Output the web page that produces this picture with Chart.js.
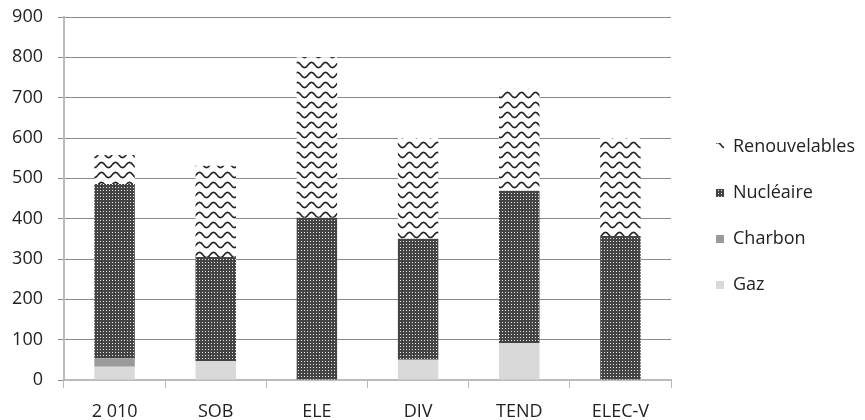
<!DOCTYPE html>
<html>
<head>
<meta charset="utf-8">
<script src="https://cdn.jsdelivr.net/npm/chart.js@4"></script>
<style>
  body { margin: 0; background: #fff; }
</style>
</head>
<body>
<canvas id="mix" width="865" height="420"></canvas>
<script>
const scenarios = ["2 010", "SOB", "ELE", "DIV", "TEND", "ELEC-V"];
const gaz = [33, 47, 0, 50, 92, 0];
const charbon = [20, 0, 0, 0, 0, 0];
const nucleaire = [433, 258, 402, 300, 377, 357];
const renouvelables = [72, 226, 398, 250, 253, 243];

// motif en vagues (renouvelables)
function wavePattern() {
    const c = document.createElement('canvas');
    c.width = 14; c.height = 10;
    const g = c.getContext('2d');
    g.fillStyle = '#fff';
    g.fillRect(0, 0, 14, 10);
    g.strokeStyle = '#222';
    g.lineWidth = 1.6;
    g.beginPath();
    for (let x = -1; x <= 15; x += 0.5) {
        const y = 5 - 2.6 * Math.sin(2 * Math.PI * x / 14);
        if (x === -1) g.moveTo(x, y); else g.lineTo(x, y);
    }
    g.stroke();
    return g.createPattern(c, 'repeat');
}

// trame pointillée foncée (nucléaire)
function dotPattern() {
    const c = document.createElement('canvas');
    c.width = 3; c.height = 3;
    const g = c.getContext('2d');
    g.fillStyle = '#444';
    g.fillRect(0, 0, 3, 3);
    g.fillStyle = '#e8e8e8';
    g.fillRect(1, 1, 1, 1);
    return g.createPattern(c, 'repeat');
}

// légende plus large, décalée vers la droite pour laisser un espace après le graphique
const legendGap = {
    id: 'legendGap',
    beforeInit(chart) {
        const fit = chart.legend.fit;
        chart.legend.fit = function () {
            fit.call(this);
            this.width = 194;
        };
    },
    afterLayout(chart) {
        chart.legend.left += 17;
        chart.legend.right += 17;
        chart.legend.top += 6;
        chart.legend.bottom += 6;
    }
};

Chart.defaults.font.family = "'Open Sans', sans-serif";
Chart.defaults.font.size = 18;
Chart.defaults.color = '#222';

new Chart("mix", {
    type: "bar",
    data: {
        labels: scenarios,
        datasets: [
            { label: "Gaz", data: gaz, backgroundColor: '#d9d9d9' },
            { label: "Charbon", data: charbon, backgroundColor: '#9a9a9a' },
            { label: "Nucléaire", data: nucleaire, backgroundColor: dotPattern() },
            { label: "Renouvelables", data: renouvelables, backgroundColor: wavePattern() }
        ]
    },
    plugins: [legendGap],
    options: {
        responsive: false,
        animation: false,
        layout: { padding: 0 },
        datasets: { bar: { barPercentage: 0.5, categoryPercentage: 0.8 } },
        plugins: {
            legend: {
                position: 'right',
                reverse: true,
                labels: { boxWidth: 8, boxHeight: 8, padding: 28, font: { size: 18 } }
            },
            tooltip: { enabled: false }
        },
        scales: {
            x: {
                stacked: true,
                grid: { drawOnChartArea: false, drawTicks: true, tickLength: 8, color: '#b8b8b8' },
                border: { color: '#bbb', width: 2 },
                ticks: { padding: 15, font: { lineHeight: 1 } },
                afterFit(scale) { scale.height = 40; }
            },
            y: {
                stacked: true,
                min: 0,
                max: 900,
                ticks: { stepSize: 100, padding: 15 },
                grid: {
                    color: (ctx) => ctx.tick && ctx.tick.value === 0 ? '#bbb' : '#8a8a8a',
                    tickColor: '#8a8a8a',
                    tickLength: 6
                },
                border: { color: '#bbb', width: 2 },
                afterFit(scale) {
                    scale.width = 64;
                    scale.paddingTop = 17;
                    scale.paddingBottom = 0;
                }
            }
        }
    }
});
</script>
</body>
</html>
